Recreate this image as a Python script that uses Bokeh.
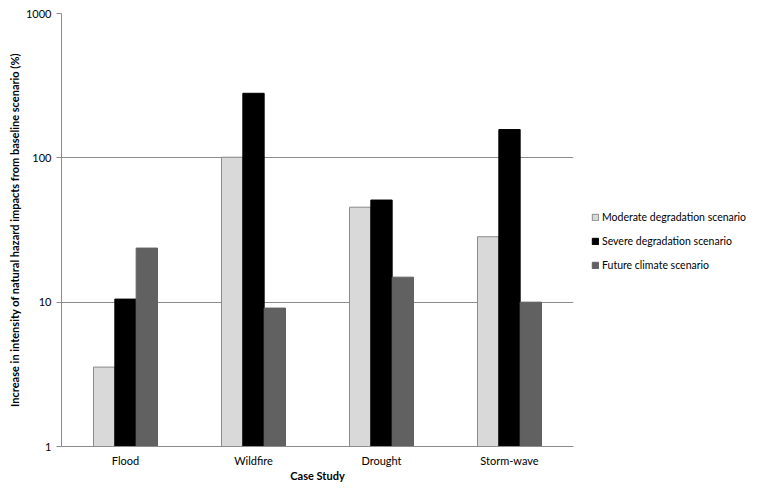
from bokeh.plotting import figure
from bokeh.models import (ColumnDataSource, FactorRange, Range1d, FixedTicker,
                          NumeralTickFormatter, Legend, LegendItem)
from bokeh.transform import dodge
from bokeh.embed import file_html
from bokeh.resources import INLINE

categories = ["Flood", "Wildfire", "Drought", "Storm-wave"]
moderate = [3.55, 101, 45.5, 28.4]
severe = [10.5, 280, 51, 157]
future = [23.7, 9.1, 14.9, 10.0]
y_ticks = [1, 10, 100, 1000]
series_names = ["Moderate degradation scenario", "Severe degradation scenario",
                "Future climate scenario"]

src = ColumnDataSource(dict(cat=categories, moderate=moderate, severe=severe,
                            future=future, base=[1] * len(categories)))

FONT = "Lato"

p = figure(frame_width=512, frame_height=433, x_range=FactorRange(*categories),
           y_range=Range1d(1, 1000), y_axis_type="log",
           output_backend="svg", toolbar_location=None,
           min_border_left=61, min_border_right=185,
           min_border_top=13, min_border_bottom=49)
p.outline_line_color = None
p.background_fill_color = "white"
p.border_fill_color = "white"

w = 1 / 6
r1 = p.vbar(x=dodge("cat", -w, range=p.x_range), top="moderate", bottom="base",
            width=w, source=src, fill_color="#d9d9d9", line_color="#8a8a8a", line_width=1)
r2 = p.vbar(x=dodge("cat", 0, range=p.x_range), top="severe", bottom="base",
            width=w, source=src, fill_color="#000000", line_color="#000000", line_width=1)
r3 = p.vbar(x=dodge("cat", w, range=p.x_range), top="future", bottom="base",
            width=w, source=src, fill_color="#616161", line_color="#616161", line_width=1)

# grid
p.xgrid.grid_line_color = None
p.ygrid.ticker = FixedTicker(ticks=y_ticks)
p.ygrid.grid_line_color = "#8c8c8c"
p.ygrid.grid_line_width = 1
p.ygrid.minor_grid_line_color = None

# y axis
ya = p.yaxis[0]
ya.ticker = FixedTicker(ticks=y_ticks, minor_ticks=[])
ya.formatter = NumeralTickFormatter(format="0")
ya.axis_line_color = "#8c8c8c"
ya.major_tick_line_color = "#8c8c8c"
ya.major_tick_out = 5
ya.major_tick_in = 0
ya.minor_tick_line_color = None
ya.major_label_text_font = FONT
ya.major_label_text_font_size = "11px"
ya.major_label_text_color = "#000000"
ya.major_label_standoff = 5
ya.axis_label = "Increase in intensity of natural hazard impacts from baseline scenario (%)"
ya.axis_label_text_font = FONT
ya.axis_label_text_font_size = "11px"
ya.axis_label_text_font_style = "bold"
ya.axis_label_text_color = "#000000"
ya.axis_label_standoff = 2

# x axis
xa = p.xaxis[0]
xa.axis_line_color = "#8c8c8c"
xa.major_tick_line_color = None
xa.major_tick_out = 0
xa.major_tick_in = 0
xa.minor_tick_line_color = None
xa.major_label_text_font = FONT
xa.major_label_text_font_size = "11px"
xa.major_label_text_color = "#000000"
xa.major_label_standoff = 7
xa.axis_label = "Case Study"
xa.axis_label_text_font = FONT
xa.axis_label_text_font_size = "11px"
xa.axis_label_text_font_style = "bold"
xa.axis_label_text_color = "#000000"
xa.axis_label_standoff = -1

legend = Legend(items=[LegendItem(label=series_names[0], renderers=[r1]),
                       LegendItem(label=series_names[1], renderers=[r2]),
                       LegendItem(label=series_names[2], renderers=[r3])],
                location=(18, 175))
legend.border_line_color = None
legend.background_fill_alpha = 0
legend.glyph_width = 8
legend.glyph_height = 8
legend.label_height = 12
legend.label_standoff = 3
legend.spacing = 12
legend.padding = 0
legend.margin = 0
legend.label_text_font = FONT
legend.label_text_font_size = "10.5px"
legend.label_text_color = "#000000"
p.add_layout(legend, "right")

open("out.html", "w").write(file_html(p, INLINE))
